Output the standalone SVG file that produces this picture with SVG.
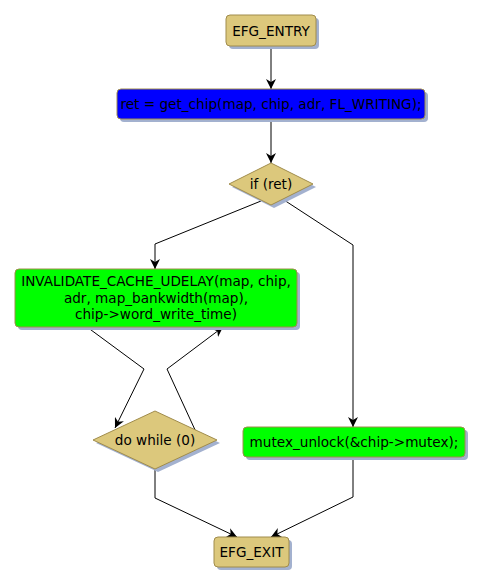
<svg xmlns="http://www.w3.org/2000/svg" width="483" height="586" viewBox="0 0 483 586">
<defs>
<style>
text{font-family:"DejaVu Sans",sans-serif;font-size:13.6px;fill:#000;text-anchor:middle}
.sh{fill:#a3b1cf}
.term{fill:#dcc87c;stroke:#a08c4c;stroke-width:1}
.dec{fill:#dcc87c;stroke:#a08c4c;stroke-width:1}
.blue{fill:#0000ff;stroke:#a08c4c;stroke-width:1}
.green{fill:#00ff00;stroke:#a08c4c;stroke-width:1}
.e{fill:none;stroke:#000;stroke-width:1}
</style>
<marker id="ah" viewBox="0 0 10 10" refX="10" refY="5" markerWidth="10" markerHeight="10" markerUnits="userSpaceOnUse" orient="auto">
<path d="M0,0 L10,5 L0,10 L3,5 z" fill="#000"/>
</marker>
</defs>
<rect width="483" height="586" fill="#fff"/>
<g id="edges">
<path class="e" d="M271,47 L271,89" marker-end="url(#ah)"/>
<path class="e" d="M271,119 L271,163" marker-end="url(#ah)"/>
<path class="e" d="M261,201 L155,244 L155,269" marker-end="url(#ah)"/>
<path class="e" d="M284,200 L353,245 L353,427" marker-end="url(#ah)"/>
<path class="e" d="M87,327 L144,369 L115,428" marker-end="url(#ah)"/>
<path class="e" d="M196,432 L167,369 L223,327" marker-end="url(#ah)"/>
<path class="e" d="M155,470 L155,498 L237,537" marker-end="url(#ah)"/>
<path class="e" d="M353,457 L353,497 L271,537" marker-end="url(#ah)"/>
</g>
<g id="entry">
<rect class="sh" x="229" y="18" width="90" height="31" rx="4"/>
<rect class="term" x="226" y="15" width="90" height="31" rx="4"/>
<text x="271" y="35.5">EFG_ENTRY</text>
</g>
<g id="getchip">
<rect class="sh" x="120" y="92" width="308" height="30" rx="4"/>
<rect class="blue" x="117" y="89" width="308" height="30" rx="4"/>
<text x="271" y="109">ret = get_chip(map, chip, adr, FL_WRITING);</text>
</g>
<g id="ifret">
<polygon class="sh" points="274,166 316,187 274,208 232,187"/>
<polygon class="dec" points="271,163 313,184 271,205 229,184"/>
<text x="271" y="189">if (ret)</text>
</g>
<g id="invalidate">
<rect class="sh" x="18" y="272" width="282" height="58" rx="4"/>
<rect class="green" x="15" y="269" width="282" height="58" rx="4"/>
<text x="156" y="286">INVALIDATE_CACHE_UDELAY(map, chip,</text>
<text x="156" y="302.5">adr, map_bankwidth(map),</text>
<text x="156" y="319">chip-&gt;word_write_time)</text>
</g>
<g id="dowhile">
<polygon class="sh" points="158,414 220,443 158,472 96,443"/>
<polygon class="dec" points="155,411 217,440 155,469 93,440"/>
<text x="155" y="445">do while (0)</text>
</g>
<g id="mutex">
<rect class="sh" x="246" y="430" width="222" height="30" rx="4"/>
<rect class="green" x="243" y="427" width="222" height="30" rx="4"/>
<text x="354" y="447">mutex_unlock(&amp;chip-&gt;mutex);</text>
</g>
<g id="exit">
<rect class="sh" x="217" y="540" width="75" height="30" rx="4"/>
<rect class="term" x="214" y="537" width="75" height="30" rx="4"/>
<text x="251.5" y="557">EFG_EXIT</text>
</g>
</svg>
